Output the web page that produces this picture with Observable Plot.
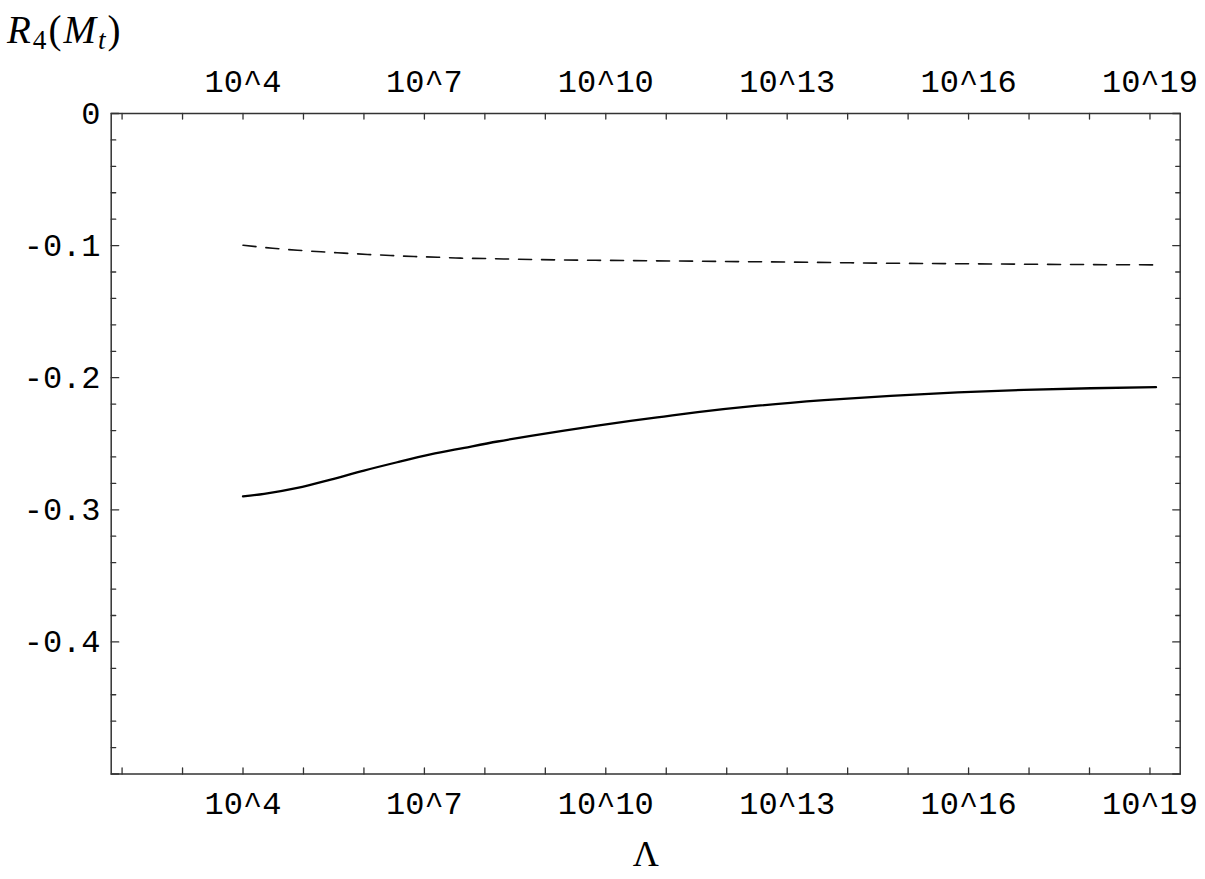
<!DOCTYPE html>
<html>
<head>
<meta charset="utf-8">
<script src="https://cdn.jsdelivr.net/npm/d3@7"></script>
<script src="https://cdn.jsdelivr.net/npm/@observablehq/plot@0.6"></script>
<style>
  html, body { margin: 0; padding: 0; background: #fff; }
  #wrap { width: 1205px; height: 879px; position: relative; }
  #title { height: 50px; font-family: "Liberation Serif", serif; font-size: 39px; letter-spacing: 2px; line-height: 1; padding-left: 7px; padding-top: 10px; box-sizing: border-box; white-space: nowrap; }
  #title sub { font-size: 0.7em; vertical-align: -0.22em; line-height: 0; }
</style>
</head>
<body>
<div id="wrap">
  <div id="title"><i>R</i><sub>4</sub>(<i>M</i><sub><i>t</i></sub>)</div>
  <div id="chart"></div>
</div>
<script>
// x is log10(Λ)
const dashedX = [4, 4.49, 4.9, 5.29, 5.67, 6.06, 6.44, 6.83, 7.22, 7.6, 7.99, 8.76, 9.53, 10.3, 11.46, 13.06, 14.6, 16.15, 17.69, 19.08];
const dashedY = [-0.0997, -0.102, -0.1035, -0.1047, -0.1057, -0.1067, -0.1075, -0.1083, -0.1088, -0.1095, -0.1098, -0.1105, -0.111, -0.1113, -0.1118, -0.1125, -0.1133, -0.1138, -0.1143, -0.1146];
const solidX = [4.0, 4.35, 4.9, 5.45, 6.0, 6.55, 7.1, 7.66, 8.21, 8.76, 9.31, 9.86, 10.41, 10.96, 11.52, 12.51, 13.61, 14.71, 15.82, 16.92, 18.02, 19.1];
const solidY = [-0.2899, -0.2879, -0.2834, -0.2771, -0.2703, -0.264, -0.2581, -0.2531, -0.2483, -0.244, -0.24, -0.2362, -0.2327, -0.2294, -0.2261, -0.2212, -0.217, -0.2137, -0.2111, -0.2092, -0.208, -0.2072];

const xMajor = [4, 7, 10, 13, 16, 19];
const xMinor = [2, 3, 4, 5, 6, 7, 8, 9, 10, 11, 12, 13, 14, 15, 16, 17, 18, 19];
const yMajor = [0, -0.1, -0.2, -0.3, -0.4, -0.5];
const yLabels = [0, -0.1, -0.2, -0.3, -0.4];
const yMinor = d3.range(0, 26).map(i => -i * 0.02).filter(v => !yMajor.some(m => Math.abs(m - v) < 1e-9));

const xDomain = [1.82, 19.5];
const yDomain = [-0.5, 0];

const dashed = dashedX.map((x, i) => ({x, y: dashedY[i]}));
const solid = solidX.map((x, i) => ({x, y: solidY[i]}));

const tickShape = {draw(ctx, l) { ctx.moveTo(0, 0); ctx.lineTo(0, -l); }};
const tk = (data, opts) => Plot.vector(data, {anchor: "start", shape: tickShape, stroke: "#333", strokeWidth: 1.3, ...opts});

const chart = Plot.plot({
  width: 1205,
  height: 829,
  marginLeft: 110.7,
  marginRight: 25.3,
  marginTop: 63,
  marginBottom: 105.5,
  style: {fontFamily: "'Liberation Mono', monospace", fontSize: "32px", color: "#000", background: "#fff"},
  x: {domain: xDomain, axis: null},
  y: {domain: yDomain, axis: null},
  marks: [
    // tick labels
    Plot.axisX(xMajor, {anchor: "bottom", tickFormat: d => `10^${d}`, tickSize: 0, tickPadding: 17, label: null}),
    Plot.axisX(xMajor, {anchor: "top", tickFormat: d => `10^${d}`, tickSize: 0, tickPadding: 22, label: null}),
    Plot.axisY(yLabels, {anchor: "left", tickFormat: d => d === 0 ? "0" : String(d), tickSize: 0, tickPadding: 10.7, label: null}),
    // ticks (inward)
    tk(xMinor, {x: d => d, y: yDomain[0], length: 6, rotate: 0}),
    tk(xMinor, {x: d => d, y: yDomain[1], length: 5.5, rotate: 180}),
    tk(yMajor, {x: xDomain[0], y: d => d, length: 7.5, rotate: 90}),
    tk(yMinor, {x: xDomain[0], y: d => d, length: 4.5, rotate: 90}),
    tk(yMajor, {x: xDomain[1], y: d => d, length: 7.5, rotate: -90}),
    tk(yMinor, {x: xDomain[1], y: d => d, length: 4.5, rotate: -90}),
    Plot.frame({stroke: "#333", strokeWidth: 1.5}),
    // curves
    Plot.line(dashed, {x: "x", y: "y", stroke: "#111", strokeWidth: 1.6, strokeDasharray: "13,10", curve: "monotone-x"}),
    Plot.line(solid, {x: "x", y: "y", stroke: "#000", strokeWidth: 2.3, curve: "monotone-x"}),
    // x axis title
    Plot.text(["Λ"], {frameAnchor: "bottom", dy: 92, fontFamily: "'Liberation Serif', serif", fontSize: 36, fill: "#000"})
  ]
});
document.getElementById("chart").appendChild(chart);
</script>
</body>
</html>
